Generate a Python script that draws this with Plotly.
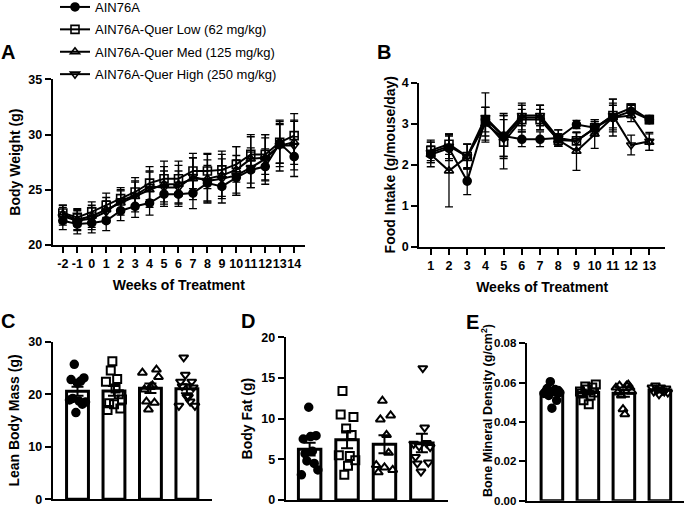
import numpy as np
import plotly.graph_objects as go

W, H = 685, 509
FONT = "Liberation Sans, Arial, sans-serif"

# ---------------- data ----------------
groups = ["AIN76A", "AIN76A-Quer Low (62 mg/kg)",
          "AIN76A-Quer Med (125 mg/kg)", "AIN76A-Quer High (250 mg/kg)"]
symbols = ["circle", "square-open", "triangle-up-open", "triangle-down-open"]

# Panel A: body weight (g), weeks -2..14
weeks_bw = list(range(-2, 15))
bw_ctrl = [22.2, 21.9, 22.0, 22.2, 23.1, 23.5, 23.8, 24.6, 24.6, 24.7, 25.6, 25.3, 26.1, 26.8, 27.1, 29.2, 28.0]
bw_low = [22.9, 22.5, 23.0, 23.6, 24.2, 24.8, 25.6, 26.0, 26.0, 26.7, 26.7, 26.8, 27.3, 28.2, 28.2, 29.3, 29.9]
bw_med = [22.8, 22.3, 22.6, 23.2, 23.8, 24.4, 25.0, 25.5, 25.5, 26.0, 26.0, 26.3, 26.8, 27.8, 27.9, 29.0, 29.3]
bw_high = [22.6, 22.2, 22.4, 23.0, 24.0, 24.5, 25.3, 25.2, 25.2, 26.2, 25.8, 26.0, 26.3, 27.0, 27.8, 29.0, 29.0]
bw_ctrl_err = [0.8, 0.9, 0.9, 0.9, 0.9, 1.0, 1.1, 1.1, 1.1, 1.4, 1.6, 1.5, 1.6, 1.6, 1.6, 1.8, 1.8]
bw_low_err = [0.7, 0.8, 0.9, 1.1, 1.0, 1.3, 1.5, 1.6, 1.6, 1.6, 1.6, 1.7, 1.6, 1.6, 1.8, 1.9, 2.0]
bw_med_err = [0.8, 0.9, 1.0, 1.1, 1.1, 1.4, 1.6, 1.6, 1.7, 1.9, 2.2, 1.9, 2.1, 2.2, 2.1, 1.9, 2.0]
bw_high_err = [0.8, 0.9, 1.0, 1.0, 1.0, 1.2, 1.4, 1.5, 1.5, 1.7, 1.9, 1.8, 1.8, 1.8, 1.9, 2.3, 2.2]

# Panel B: food intake (g/mouse/day), weeks 1..13
weeks_fi = list(range(1, 14))
fi_ctrl = [2.25, 2.40, 1.60, 3.10, 2.70, 2.62, 2.62, 2.65, 2.98, 2.90, 3.15, 3.30, 3.10]
fi_low = [2.35, 2.50, 2.20, 3.05, 2.55, 3.10, 3.10, 2.60, 2.58, 2.90, 3.20, 3.38, 3.10]
fi_med = [2.25, 1.85, 2.20, 3.00, 2.65, 3.15, 3.15, 2.60, 2.33, 2.75, 3.15, 3.20, 2.55]
fi_high = [2.30, 2.45, 2.20, 3.15, 2.70, 3.20, 3.20, 2.65, 2.58, 2.90, 3.20, 2.48, 2.57]
fi_ctrl_err = [0.20, 0.30, 0.33, 0.30, 0.50, 0.18, 0.18, 0.20, 0.10, 0.15, 0.30, 0.15, 0.10]
fi_low_err = [0.25, 0.25, 0.30, 0.35, 0.65, 0.25, 0.25, 0.15, 0.20, 0.15, 0.40, 0.10, 0.08]
fi_med_err = [0.30, 0.88, 0.30, 0.40, 0.45, 0.35, 0.30, 0.15, 0.47, 0.35, 0.45, 0.15, 0.20]
fi_high_err = [0.25, 0.30, 0.30, 0.60, 0.55, 0.25, 0.25, 0.20, 0.20, 0.20, 0.30, 0.24, 0.22]

# Panel C: lean body mass (g), individual mice (left-to-right as drawn)
lean_ctrl = [18.9, 22.8, 19.2, 25.7, 16.5, 22.1, 18.7, 22.5, 18.1, 23.1, 18.5]
lean_low = [22.4, 17.0, 18.3, 24.5, 26.3, 18.1, 21.1, 22.9, 20.0, 17.3, 19.0]
lean_med = [24.1, 20.9, 18.6, 17.1, 21.4, 21.7, 18.4, 24.7, 23.3]
lean_high = [17.8, 22.4, 21.5, 27.0, 23.7, 19.5, 19.5, 18.6, 22.4, 21.3, 17.8]

# Panel D: body fat (g)
fat_ctrl = [3.1, 7.5, 5.7, 4.8, 11.4, 7.8, 6.0, 4.5, 7.9, 3.7]
fat_low = [5.5, 10.5, 13.4, 3.1, 8.8, 4.2, 5.4, 8.0, 10.2, 4.9]
fat_med = [4.3, 3.4, 9.9, 12.2, 4.0, 8.0, 5.8, 10.4, 3.7]
fat_high = [6.9, 5.3, 4.5, 6.6, 3.5, 16.2, 8.9, 7.0, 4.6, 6.5]

# Panel E: bone mineral density (g/cm2)
bmd_ctrl = [0.0545, 0.0555, 0.0570, 0.0535, 0.0605, 0.0470, 0.0555, 0.0565, 0.0510, 0.0560, 0.0550]
bmd_low = [0.0555, 0.0545, 0.0510, 0.0580, 0.0565, 0.0490, 0.0535, 0.0575, 0.0550, 0.0590]
bmd_med = [0.0575, 0.0550, 0.0585, 0.0535, 0.0465, 0.0440, 0.0585, 0.0590, 0.0575, 0.0555]
bmd_high = [0.0575, 0.0555, 0.0585, 0.0565, 0.0540, 0.0575, 0.0560, 0.0555, 0.0570, 0.0550]

# ---------------- layout helpers ----------------
def xdom(a, b):
    return [a / W, b / W]

def ydom(top, bottom):
    return [1 - bottom / H, 1 - top / H]

axis_common = dict(
    showline=True, linecolor="black", linewidth=2,
    ticks="outside", ticklen=6, tickwidth=2, tickcolor="black",
    showgrid=False, zeroline=False, automargin=False, tickangle=0,
    tickfont=dict(family=FONT, size=12.5, color="black", weight="bold"),
)
title_font = dict(family=FONT, size=14, color="black", weight="bold")

fig = go.Figure()

# ---------------- line panels ----------------
line_sets = [
    ("x", "y", weeks_bw, [bw_ctrl, bw_low, bw_med, bw_high],
     [bw_ctrl_err, bw_low_err, bw_med_err, bw_high_err], True),
    ("x2", "y2", weeks_fi, [fi_ctrl, fi_low, fi_med, fi_high],
     [fi_ctrl_err, fi_low_err, fi_med_err, fi_high_err], False),
]
for xa, ya, xs, series, errs, show in line_sets:
    for i in range(4):
        fig.add_trace(go.Scatter(
            x=xs, y=series[i], xaxis=xa, yaxis=ya, mode="lines+markers",
            name=groups[i], showlegend=show, legendgroup=f"g{i}",
            line=dict(color="black", width=2),
            marker=dict(symbol=symbols[i], size=8, color="black",
                        line=dict(color="black", width=1.6)),
            error_y=dict(type="data", array=errs[i], color="black",
                         thickness=1.3, width=4),
        ))

# ---------------- bar + scatter panels ----------------
bar_sets = [
    ("x3", "y3", [lean_ctrl, lean_low, lean_med, lean_high]),
    ("x4", "y4", [fat_ctrl, fat_low, fat_med, fat_high]),
    ("x5", "y5", [bmd_ctrl, bmd_low, bmd_med, bmd_high]),
]
for xa, ya, data in bar_sets:
    means = [float(np.mean(d)) for d in data]
    sems = [float(np.std(d, ddof=1) / np.sqrt(len(d))) for d in data]
    fig.add_trace(go.Bar(
        x=[0, 1, 2, 3], y=means, xaxis=xa, yaxis=ya, width=0.6,
        marker=dict(color="white", line=dict(color="black", width=3)),
        error_y=dict(type="data", array=sems, color="black", thickness=2, width=6),
        showlegend=False,
    ))
    for i, d in enumerate(data):
        offs = np.linspace(-0.22, 0.22, len(d))
        fig.add_trace(go.Scatter(
            x=i + offs, y=d, xaxis=xa, yaxis=ya, mode="markers", showlegend=False,
            marker=dict(symbol=symbols[i], size=7.5 if i == 0 else 8, color="black",
                        line=dict(color="black", width=2)),
        ))

# ---------------- axes ----------------
fig.update_layout(
    xaxis=dict(axis_common, domain=xdom(52.7, 305), range=[-2.7, 14.75],
               tickmode="array", tickvals=weeks_bw, ticktext=[str(w) for w in weeks_bw],
               anchor="y",
               title=dict(text="Weeks of Treatment", font=title_font, standoff=10)),
    yaxis=dict(axis_common, domain=ydom(79.3, 245), range=[20, 35],
               tickvals=[20, 25, 30, 35], anchor="x",
               title=dict(text="Body Weight (g)", font=title_font, standoff=4)),
    xaxis2=dict(axis_common, domain=xdom(419.3, 665), range=[0.37, 13.86],
                tickvals=weeks_fi, anchor="y2",
                title=dict(text="Weeks of Treatment", font=title_font, standoff=10)),
    yaxis2=dict(axis_common, domain=ydom(82.7, 246.7), range=[0, 4],
                tickvals=[0, 1, 2, 3, 4], anchor="x2",
                title=dict(text="Food Intake (g/mouse/day)", font=title_font, standoff=3)),
    xaxis3=dict(axis_common, domain=xdom(52.7, 211.7), range=[-0.68, 3.68],
                showticklabels=False, ticks="", anchor="y3"),
    yaxis3=dict(axis_common, domain=ydom(341.7, 499.3), range=[0, 30],
                tickvals=[0, 10, 20, 30], anchor="x3",
                title=dict(text="Lean Body Mass (g)", font=title_font, standoff=5)),
    xaxis4=dict(axis_common, domain=xdom(285.7, 447.7), range=[-0.64, 3.69],
                showticklabels=False, ticks="", anchor="y4"),
    yaxis4=dict(axis_common, domain=ydom(337.3, 500), range=[0, 20],
                tickvals=[0, 5, 10, 15, 20], anchor="x4",
                title=dict(text="Body Fat (g)", font=title_font, standoff=5)),
    xaxis5=dict(axis_common, domain=xdom(526.7, 684), range=[-0.7, 3.67],
                showticklabels=False, ticks="", anchor="y5"),
    yaxis5=dict(axis_common, domain=ydom(343.3, 500.7), range=[0, 0.08],
                tickvals=[0, 0.02, 0.04, 0.06, 0.08], tickformat=".2f", anchor="x5",
                tickfont=dict(family=FONT, size=11.5, color="black", weight="bold")),
)

# y title of panel E (placed by hand since it is taller than its axis)
fig.add_annotation(text="Bone Mineral Density (g/cm<sup>2</sup>)", textangle=-90,
                   x=487 / W, y=1 - 411 / H, xref="paper", yref="paper",
                   showarrow=False, xanchor="center", yanchor="middle",
                   font=dict(family=FONT, size=12.5, color="black", weight="bold"))

# panel letters
letters = [("A", 8, 52), ("B", 384, 52), ("C", 8, 321), ("D", 248, 321), ("E", 473, 322)]
for t, px, py in letters:
    fig.add_annotation(text=t, x=px / W, y=1 - py / H, xref="paper", yref="paper",
                       showarrow=False, xanchor="center", yanchor="middle",
                       font=dict(family=FONT, size=20, color="black", weight="bold"))

fig.update_layout(
    width=W, height=H, margin=dict(l=0, r=0, t=0, b=0, autoexpand=False),
    paper_bgcolor="white", plot_bgcolor="white",
    font=dict(family=FONT, color="black"),
    legend=dict(x=55 / W, y=1 + 8 / H, xanchor="left", yanchor="top",
                font=dict(family=FONT, size=13, color="black"),
                tracegroupgap=2.5, bgcolor="rgba(0,0,0,0)"),
)

fig.write_html("out.html", config={"displayModeBar": False},
               post_script="document.body.style.margin='0';document.body.style.padding='0';")
